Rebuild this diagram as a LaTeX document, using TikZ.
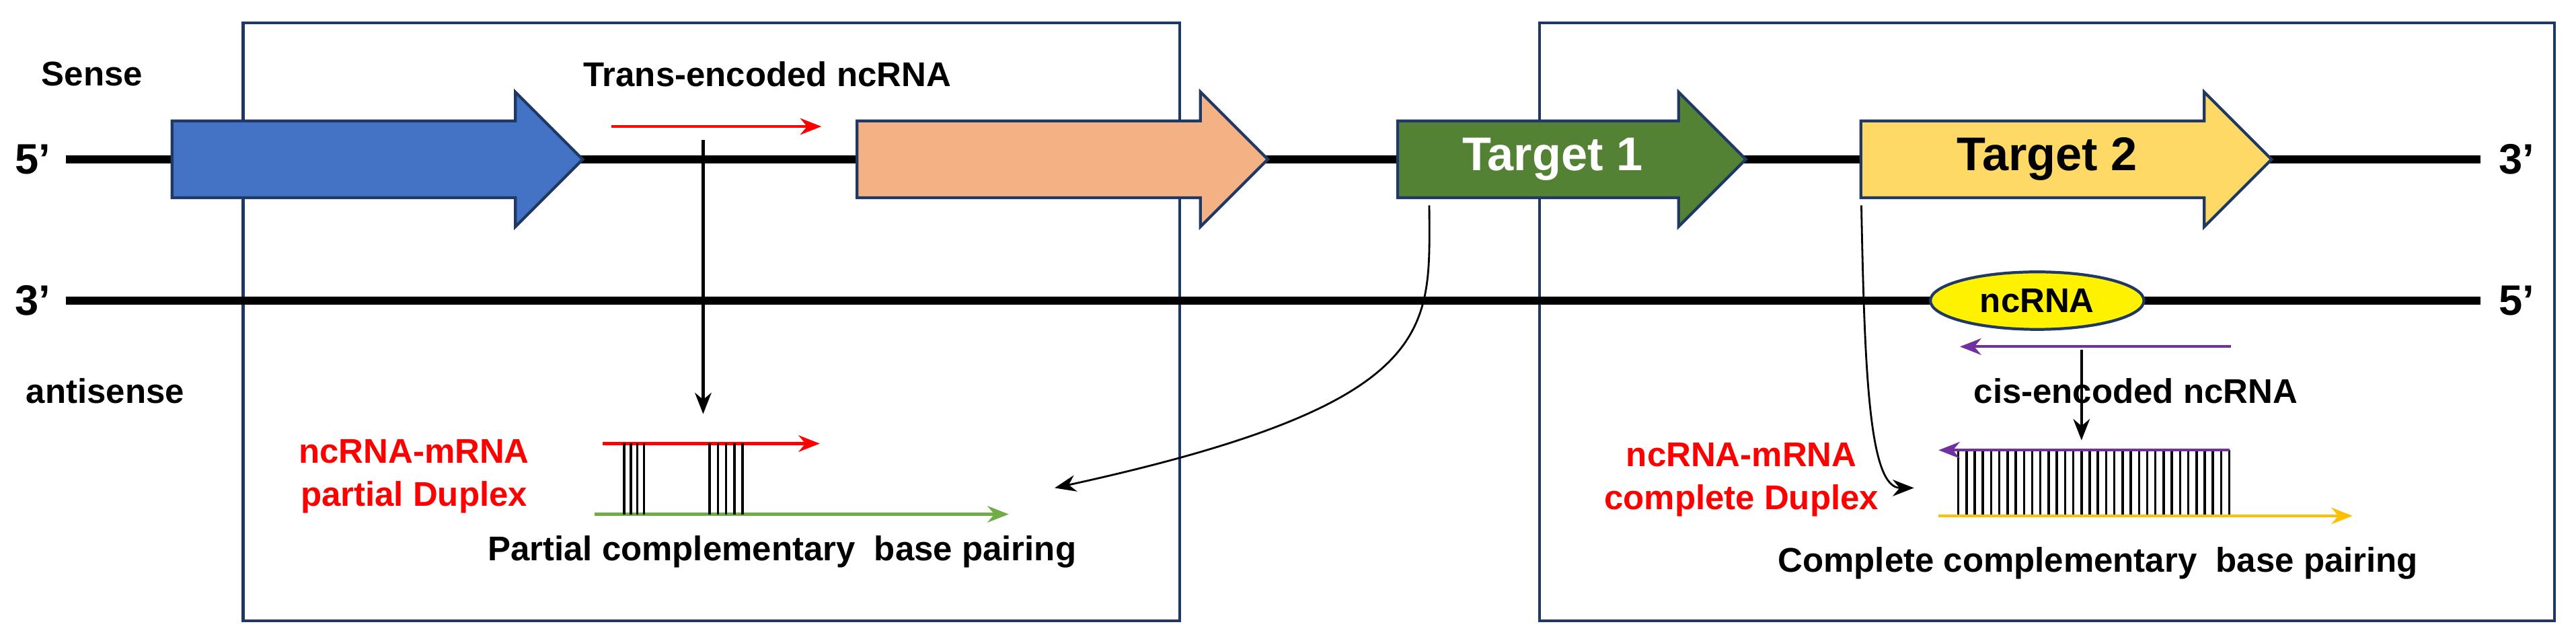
\documentclass[tikz,border=0pt]{standalone}
\usepackage{fontspec}
\setmainfont{Liberation Sans}
\usetikzlibrary{arrows.meta,shapes.arrows,shapes.geometric}
\definecolor{boxblue}{HTML}{1F3864}
\definecolor{geneblue}{HTML}{4472C4}
\definecolor{genesalmon}{HTML}{F4B183}
\definecolor{genegreen}{HTML}{548235}
\definecolor{geneyellow}{HTML}{FFD966}
\definecolor{pairgreen}{HTML}{70AD47}
\definecolor{pairgold}{HTML}{FFC000}
\definecolor{ncpurple}{HTML}{7030A0}
\tikzset{
  gene/.style = {single arrow, draw=boxblue, line width=1.2pt,
                 minimum width=1.95cm, single arrow head extend=0.43cm,
                 inner sep=0pt, text height=0.72cm, text depth=0.38cm,
                 font=\bfseries\fontsize{20}{24}\selectfont},
  strand/.style = {line width=3.5pt},
  frame/.style = {draw=boxblue, line width=1.2pt},
  lbl/.style = {font=\bfseries\fontsize{14.5}{18}\selectfont, align=center},
  prime/.style = {font=\bfseries\fontsize{18}{21}\selectfont},
  arrow/.style = {line width=1.2pt, -{Stealth[length=9pt,width=7pt]}},
  bar/.style = {line width=1pt}
}
\begin{document}
\begin{tikzpicture}[x=0.02443cm, y=-0.02443cm]
\useasboundingbox (0,0) rectangle (1568,390);

% frames
\draw[frame] (148,14) rectangle (718,378);
\draw[frame] (937,14) rectangle (1555,378);

% strands
\coordinate (s5) at (40,97);  \coordinate (s3) at (1510,97);
\coordinate (a3) at (40,183); \coordinate (a5) at (1510,183);
\draw[strand] (s5) -- (s3);
\draw[strand] (a3) -- (a5);
\node (p5s) [prime] at (20,97)   {5’};
\node (p3s) [prime] at (1532,97) {3’};
\node (p3a) [prime] at (20,183)  {3’};
\node (p5a) [prime] at (1532,183){5’};
\node (sense) [lbl] at (56,45)  {Sense};
\node (anti)  [lbl] at (64,238) {antisense};

% genes
\node (blue)    [gene, fill=geneblue,   minimum height=250*0.02443cm] at (218,97) {};
\node (salmon)  [gene, fill=genesalmon, minimum height=250*0.02443cm] at (635,97) {};
\node (target1) [gene, fill=genegreen,  minimum height=212*0.02443cm, text=white] at (945,97) {Target 1};
\node (target2) [gene, fill=geneyellow, minimum height=250*0.02443cm, text=black] at (1246,97) {Target 2};

% trans-encoded ncRNA
\node (trans) [lbl] at (467,45) {Trans-encoded ncRNA};
\coordinate (tr0) at (372,77); \coordinate (tr1) at (500,77);
\draw[arrow, red] (tr0) -- (tr1);
\coordinate (dn0) at (428,85); \coordinate (dn1) at (428,252);
\draw[arrow] (dn0) -- (dn1);

% partial duplex
\node (pdup) [lbl, text=red] at (252,290) {ncRNA-mRNA\\partial Duplex};
\coordinate (pr0) at (367,270); \coordinate (pr1) at (499,270);
\coordinate (pg0) at (362,313); \coordinate (pg1) at (614,313);
\draw[arrow, red] (pr0) -- (pr1);
\draw[arrow, pairgreen] (pg0) -- (pg1);
\foreach \x in {380,384,388,392,432,437,442,447,452}
  \draw[bar] (\x,270) -- (\x,313);
\node (ppair) [lbl] at (476,336) {Partial complementary\ \ base pairing};

% target 1 curve
\coordinate (c1) at (870,125);
\draw[line width=0.8pt, -{Stealth[length=9pt,width=7pt]}] (c1) .. controls (870,200) and (880,245) .. (642,297);

% cis-encoded ncRNA
\node (nc) [ellipse, draw=boxblue, line width=1.2pt, fill=yellow, minimum width=130*0.02443cm,
            minimum height=35*0.02443cm, lbl] at (1240,183) {ncRNA};
\coordinate (cp0) at (1358,211); \coordinate (cp1) at (1193,211);
\draw[arrow, ncpurple] (cp0) -- (cp1);
\coordinate (cd0) at (1267,213); \coordinate (cd1) at (1267,268);
\draw[arrow] (cd0) -- (cd1);
\node (cis) [lbl] at (1300,238) {cis-encoded ncRNA};

% complete duplex
\node (cdup) [lbl, text=red] at (1060,292) {ncRNA-mRNA\\complete Duplex};
\coordinate (cq0) at (1357,274); \coordinate (cq1) at (1180,274);
\coordinate (cy0) at (1180,314); \coordinate (cy1) at (1432,314);
\foreach \x in {1192,1197,...,1357}
  \draw[bar] (\x,274) -- (\x,314);
\draw[arrow, ncpurple] (cq0) -- (cq1);
\draw[arrow, pairgold] (cy0) -- (cy1);
\node (cpair) [lbl] at (1277,343) {Complete complementary\ \ base pairing};

% target 2 curve
\coordinate (c2) at (1133,125);
\draw[line width=0.8pt, -{Stealth[length=9pt,width=7pt]}] (c2) .. controls (1135,230) and (1138,297) .. (1165,297);
\end{tikzpicture}
\end{document}
